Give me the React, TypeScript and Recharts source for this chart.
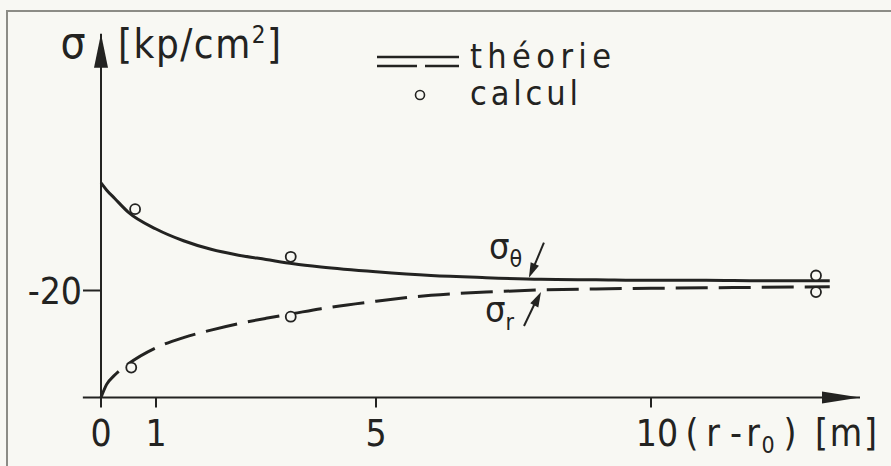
import React from "react";
import {
  ComposedChart,
  Line,
  Scatter,
  XAxis,
  YAxis,
  ReferenceLine,
  ReferenceDot,
  Legend,
} from "recharts";

const INK = "#232321";
const PAPER = "#f8f8f3";
const FONT = "'DejaVu Sans Condensed', 'DejaVu Sans', 'Liberation Sans', sans-serif";

// theory curves, distance from the wall (r - r0) in m, stress in kp/cm2
const theoryX = [0, 0.1, 0.25, 0.5, 1, 1.5, 2, 2.5, 3, 3.5, 4, 5, 6, 7, 8, 9, 10, 11, 12, 13.25];
const sigmaTheta = [-40.1, -38.8, -37.2, -34.6, -31.5, -29.3, -27.7, -26.6, -25.8, -25.0, -24.4, -23.5, -22.8, -22.4, -22.1, -22.0, -21.9, -21.9, -21.8, -21.8];
const sigmaR = [0, -2.4, -4.2, -6.3, -9.3, -11.2, -12.6, -13.8, -14.8, -15.7, -16.6, -18.0, -19.1, -19.7, -20.1, -20.3, -20.4, -20.5, -20.6, -20.7];

// computed points ("calcul")
const calcThetaX = [0.62, 3.45, 13.0];
const calcTheta = [-35.2, -26.3, -22.8];
const calcRX = [0.55, 3.45, 13.0];
const calcR = [-5.6, -15.1, -19.7];

const xTicks = [0, 1, 5, 10];
const yTicks = [-20];
const xMax = 13.8;
const yMin = -68;

const theoryRows = theoryX.map((x, i) => ({ x, theta: sigmaTheta[i], r: sigmaR[i] }));
const calcThetaRows = calcThetaX.map((x, i) => ({ x, s: calcTheta[i] }));
const calcRRows = calcRX.map((x, i) => ({ x, s: calcR[i] }));

// arrowhead polygon with its tip at (tx, ty), pointing away from (fx, fy)
function head(tx: number, ty: number, fx: number, fy: number, len = 15, half = 4.5) {
  const dx = tx - fx;
  const dy = ty - fy;
  const d = Math.hypot(dx, dy);
  const ux = dx / d;
  const uy = dy / d;
  const bx = tx - ux * len;
  const by = ty - uy * len;
  return `${tx},${ty} ${bx - uy * half},${by + ux * half} ${bx + uy * half},${by - ux * half}`;
}

const Circle = (props: any) => (
  <circle cx={props.cx} cy={props.cy} r={5} fill={PAPER} stroke={INK} strokeWidth={1.8} />
);

const XTick = (props: any) => {
  const { x, y, payload } = props;
  const base = y + 34;
  if (payload.value !== 10) {
    return (
      <text x={x} y={base} textAnchor="middle" fontSize={37} fontFamily={FONT} fill={INK}>
        {payload.value}
      </text>
    );
  }
  return (
    <g fontSize={37} fontFamily={FONT} fill={INK}>
      <text x={x + 6} y={base} textAnchor="middle">10</text>
      <text x={x + 41} y={base} textAnchor="middle">(</text>
      <text x={x + 62} y={base} textAnchor="middle">r</text>
      <text x={x + 85} y={base} textAnchor="middle">-</text>
      <text x={x + 102} y={base} textAnchor="middle">r</text>
      <text x={x + 117} y={base + 7} textAnchor="middle" fontSize={23}>0</text>
      <text x={x + 139} y={base} textAnchor="middle">)</text>
      <text x={x + 195} y={base} textAnchor="middle" textLength={62} lengthAdjust="spacing">[m]</text>
    </g>
  );
};

const XArrow = ({ cx, cy }: any) => (
  <polygon points={`${cx},${cy} ${cx - 38},${cy - 6} ${cx - 38},${cy + 6}`} fill={INK} />
);

const YArrow = ({ cx, cy }: any) => (
  <g fontFamily={FONT} fill={INK}>
    <polygon points={`${cx},${cy} ${cx - 7},${cy + 34} ${cx + 7},${cy + 34}`} />
    <text x={cx - 28} y={cy + 24} textAnchor="middle" fontSize={44}>σ</text>
    <text x={cx + 17} y={cy + 24} fontSize={40} textLength={163} lengthAdjust="spacing">
      [kp/cm<tspan dy={-15} fontSize={24}>2</tspan><tspan dy={15}>]</tspan>
    </text>
  </g>
);

const ThetaTag = ({ cx, cy }: any) => (
  <g fontFamily={FONT} fill={INK}>
    <line x1={cx + 15} y1={cy - 36} x2={cx + 5} y2={cy - 12} stroke={INK} strokeWidth={2} />
    <polygon points={head(cx, cy - 1, cx + 15, cy - 36)} />
    <text x={cx - 40} y={cy - 20} fontSize={36}>
      σ<tspan fontSize={23} dy={8}>θ</tspan>
    </text>
  </g>
);

const RTag = ({ cx, cy }: any) => (
  <g fontFamily={FONT} fill={INK}>
    <line x1={cx - 17} y1={cy + 36} x2={cx - 6} y2={cy + 13} stroke={INK} strokeWidth={2} />
    <polygon points={head(cx, cy + 2, cx - 17, cy + 36)} />
    <text x={cx - 56} y={cy + 32} fontSize={36}>
      σ<tspan fontSize={23} dy={8}>r</tspan>
    </text>
  </g>
);

const LegendBox = () => (
  <svg width={260} height={80} style={{ overflow: "visible" }}>
    <line x1={7} x2={89} y1={20} y2={20} stroke={INK} strokeWidth={2.5} />
    <line x1={7} x2={47} y1={29} y2={29} stroke={INK} strokeWidth={2.5} />
    <line x1={55} x2={89} y1={29} y2={29} stroke={INK} strokeWidth={2.5} />
    <text x={100} y={31} fontSize={34} fontFamily={FONT} fill={INK} textLength={141} lengthAdjust="spacing">
      théorie
    </text>
    <circle cx={50} cy={58} r={4.5} fill={PAPER} stroke={INK} strokeWidth={1.6} />
    <text x={100} y={68} fontSize={34} fontFamily={FONT} fill={INK} textLength={108} lengthAdjust="spacing">
      calcul
    </text>
  </svg>
);

export default function App() {
  return (
    <div
      style={{
        position: "absolute",
        left: 0,
        top: 0,
        width: 891,
        height: 466,
        background: PAPER,
        overflow: "hidden",
      }}
    >
      <div
        style={{
          position: "absolute",
          left: 6,
          top: 10,
          width: 900,
          height: 480,
          borderTop: "2px solid #8c8c86",
          borderLeft: "2px solid #8c8c86",
        }}
      />
      <ComposedChart
        width={891}
        height={466}
        data={theoryRows}
        margin={{ top: 33.7, right: 31, bottom: 38.5, left: 41 }}
      >
        <XAxis
          type="number"
          dataKey="x"
          domain={[0, xMax]}
          ticks={xTicks}
          interval={0}
          height={30}
          tickSize={10}
          tickMargin={4}
          axisLine={{ stroke: INK, strokeWidth: 2 }}
          tickLine={{ stroke: INK, strokeWidth: 2 }}
          tick={<XTick />}
        />
        <YAxis
          type="number"
          domain={[yMin, 0]}
          reversed
          ticks={yTicks}
          interval={0}
          width={60}
          tickSize={18}
          tickMargin={1}
          axisLine={{ stroke: INK, strokeWidth: 2 }}
          tickLine={{ stroke: INK, strokeWidth: 2 }}
          tick={{ fill: INK, fontSize: 37, fontFamily: FONT }}
        />
        <ReferenceLine
          segment={[{ x: -0.33, y: 0 }, { x: 0, y: 0 }]}
          stroke={INK}
          strokeWidth={2}
          ifOverflow="visible"
        />
        <Line
          dataKey="theta"
          type="monotone"
          stroke={INK}
          strokeWidth={3}
          dot={false}
          activeDot={false}
          isAnimationActive={false}
        />
        <Line
          dataKey="r"
          type="monotone"
          stroke={INK}
          strokeWidth={3}
          strokeDasharray="32 11"
          dot={false}
          activeDot={false}
          isAnimationActive={false}
        />
        <Scatter data={calcThetaRows} dataKey="s" shape={<Circle />} isAnimationActive={false} />
        <Scatter data={calcRRows} dataKey="s" shape={<Circle />} isAnimationActive={false} />
        <ReferenceDot x={xMax} y={0} ifOverflow="visible" shape={<XArrow />} />
        <ReferenceDot x={0} y={yMin} ifOverflow="visible" shape={<YArrow />} />
        <ReferenceDot x={7.78} y={-22.2} ifOverflow="visible" shape={<ThetaTag />} />
        <ReferenceDot x={8.0} y={-20.1} ifOverflow="visible" shape={<RTag />} />
        <Legend
          layout="horizontal"
          verticalAlign="middle"
          align="center"
          content={<LegendBox />}
          wrapperStyle={{ position: "absolute", left: 370, top: 37, width: 260, height: 80 }}
        />
      </ComposedChart>
    </div>
  );
}
